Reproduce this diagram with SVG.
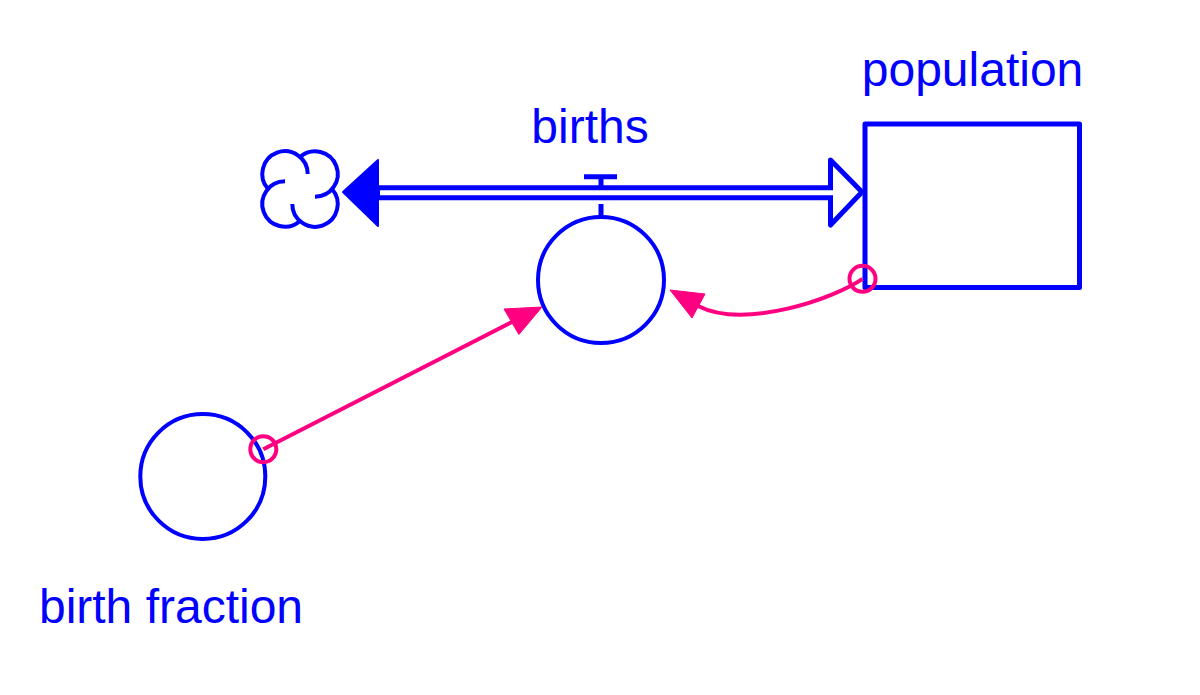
<svg xmlns="http://www.w3.org/2000/svg" width="1200" height="695" viewBox="0 0 1200 695">
<style>
.lbl{font-family:"Liberation Sans",Arial,sans-serif;font-size:48px;fill:#0000FF;text-anchor:middle}
.node{fill:none;stroke:#0000FF;stroke-width:4}
.link{fill:none;stroke:#FF0080;stroke-width:4}
.head{fill:#FF0080;stroke:#FF0080;stroke-width:1;stroke-linejoin:round}
</style>
<rect width="1200" height="695" fill="#FFFFFF"/>
<g id="cloud" fill="none" stroke="#0000FF" stroke-width="4" stroke-linecap="butt">
<path d="M307.7,174 A22.7,22.7 0 1 0 268,189"/>
<path d="M285,181.3 A22.7,22.7 0 1 0 300,221"/>
<path d="M292.3,204 A22.7,22.7 0 1 0 332,189"/>
<path d="M315,196.7 A22.7,22.7 0 1 0 300,157"/>
</g>
<g id="flow-births">
<polygon points="343,192 378,160 378,226" fill="#0000FF" stroke="#0000FF" stroke-width="2" stroke-linejoin="round"/>
<polygon points="830.5,160 862,192 830.5,225" fill="#FFFFFF" stroke="#0000FF" stroke-width="5" stroke-linejoin="round"/>
<line x1="378" y1="192.7" x2="831" y2="192.7" stroke="#0000FF" stroke-width="15"/>
<line x1="380" y1="192.7" x2="834" y2="192.7" stroke="#FFFFFF" stroke-width="5"/>
<line x1="584" y1="176.7" x2="617" y2="176.7" stroke="#0000FF" stroke-width="5"/>
<line x1="601" y1="176" x2="601" y2="186" stroke="#0000FF" stroke-width="5"/>
<line x1="601" y1="204" x2="601" y2="217" stroke="#0000FF" stroke-width="5"/>
<circle class="node" cx="601" cy="280" r="63"/>
<text class="lbl" x="590" y="143">births</text>
</g>
<g id="population">
<rect x="865" y="124" width="214.5" height="163.5" fill="none" stroke="#0000FF" stroke-width="5" stroke-linejoin="round"/>
<text class="lbl" x="972.5" y="86">population</text>
</g>
<g id="birth-fraction">
<circle class="node" cx="202.8" cy="476.5" r="62.5"/>
<text class="lbl" x="171" y="623">birth fraction</text>
</g>
<g id="connectors">
<circle class="link" cx="263.3" cy="449.2" r="13"/>
<line class="link" x1="263.3" y1="449.2" x2="514" y2="321"/>
<polygon class="head" points="542,307 518.9,334.5 504,309"/>
<circle class="link" cx="862.5" cy="278.8" r="13"/>
<path class="link" d="M862.5,278.8 C835,298 745,330 698,306"/>
<polygon class="head" points="670,290 705,294 692,318"/>
</g>
</svg>
